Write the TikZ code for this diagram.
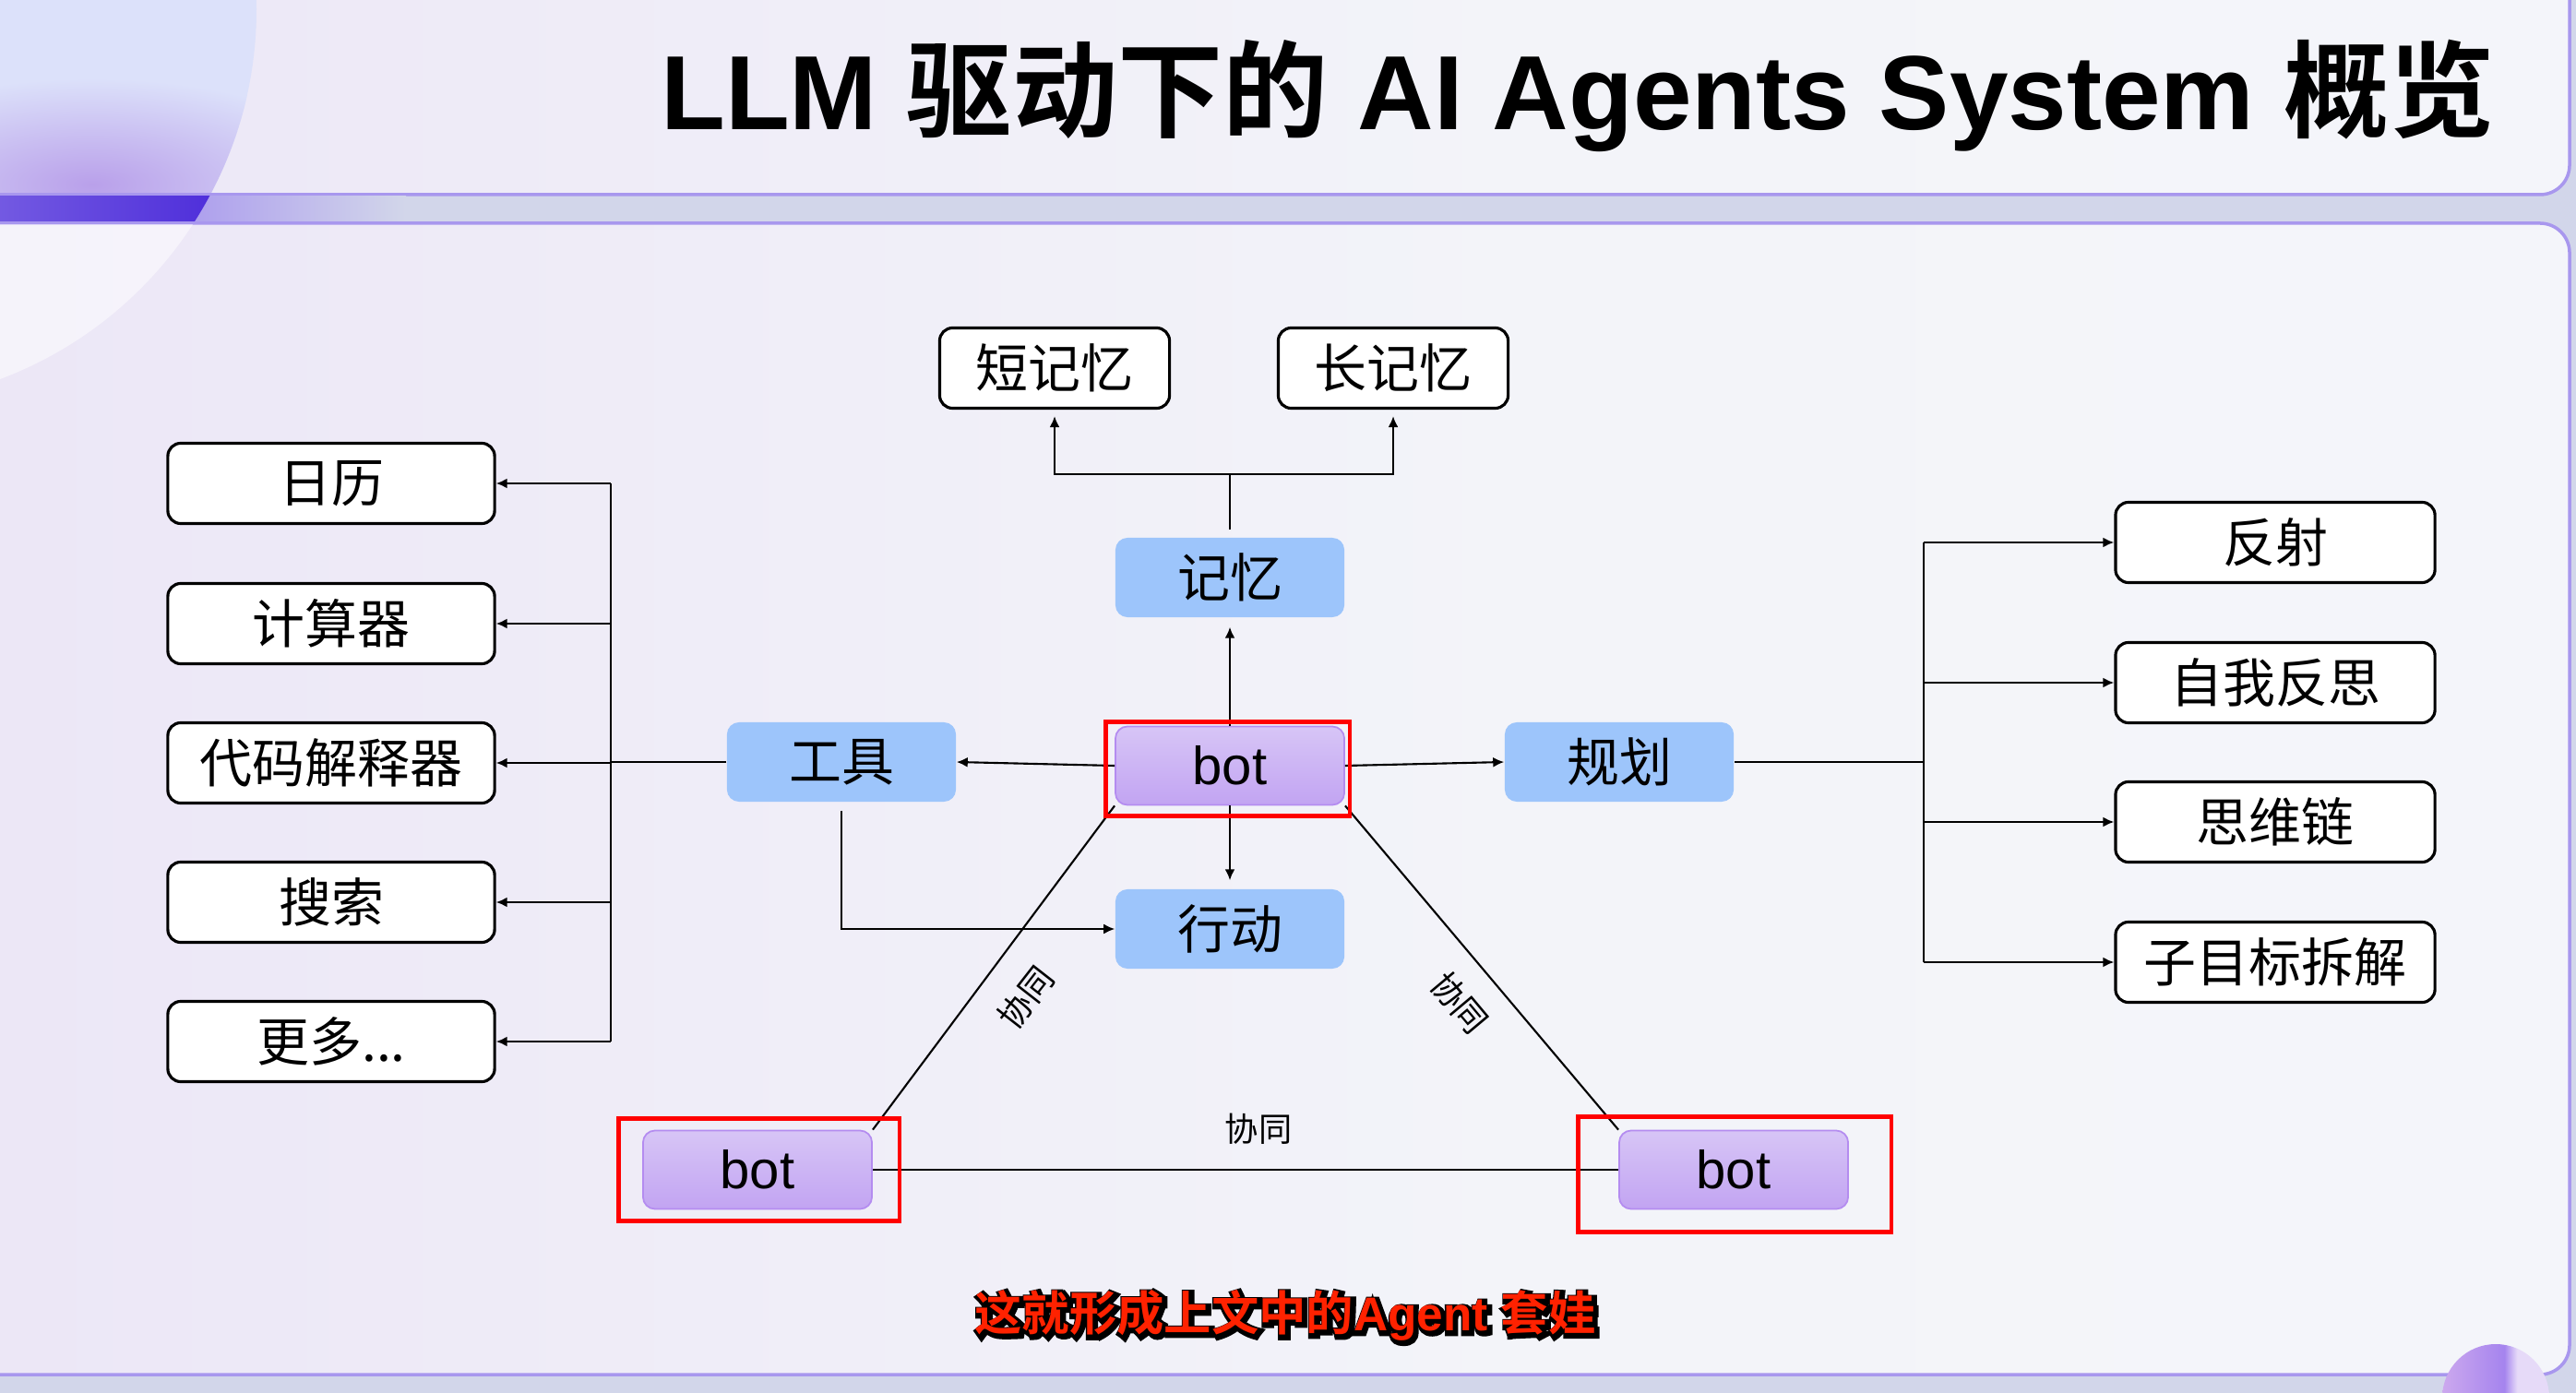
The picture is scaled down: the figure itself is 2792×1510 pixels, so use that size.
\documentclass[tikz,border=0pt]{standalone}
\usepackage{fontspec}
\setmainfont{Liberation Sans}
\newfontfamily\cjk[BoldFont={Noto Sans CJK SC Bold}]{Noto Sans CJK SC}
\newfontfamily\capcjkrim[FakeBold=14]{Noto Sans CJK SC Bold}
\newfontfamily\caplatrim[FakeBold=14]{Liberation Sans Bold}
\usetikzlibrary{arrows.meta, positioning, calc}

\definecolor{gapcol}{HTML}{D2D6EA}
\definecolor{rimcol}{HTML}{A897EE}
\definecolor{coreblue}{HTML}{9DC5FB}
\definecolor{bottop}{HTML}{D7C5F6}
\definecolor{botbot}{HTML}{C2A4F2}
\definecolor{botedge}{HTML}{B48CF0}
\definecolor{capred}{HTML}{FF2200}
\definecolor{circA}{HTML}{DCE1FA}
\definecolor{blobpurple}{HTML}{B9A0EA}
\definecolor{barblue}{HTML}{4422D8}
\definecolor{pnlA}{HTML}{F2E2F3}
\definecolor{pnlB}{HTML}{EBE5F6}
\definecolor{pnlC}{HTML}{F3F4F9}
\definecolor{pnlD}{HTML}{F6F7FB}
\definecolor{orbpink}{HTML}{EEC8EE}
\definecolor{orbmid}{HTML}{A584EE}
\definecolor{orblight}{HTML}{E6DAF8}

\pgfdeclarehorizontalshading{panelshade}{100bp}{color(0bp)=(pnlA); color(22bp)=(pnlB); color(55bp)=(pnlC); color(100bp)=(pnlD)}
\pgfdeclarehorizontalshading{orbshade}{100bp}{color(0bp)=(orbpink); color(54bp)=(orbmid); color(60bp)=(orblight); color(100bp)=(orblight)}

\begin{document}
\begin{tikzpicture}[x=0.01cm, y=-0.01cm,
    >={Latex[length=1.2mm,width=1.1mm]},
    conn/.style={line width=0.6pt, black},
    arr/.style={conn, ->},
    core/.style={rounded corners=0.13cm, fill=coreblue, minimum width=2.48cm, minimum height=0.86cm, inner sep=0pt, font=\cjk\fontsize{16.2}{18}\selectfont},
    botbox/.style={rounded corners=0.13cm, draw=botedge, line width=0.5pt, top color=bottop, bottom color=botbot, minimum width=2.48cm, minimum height=0.85cm, inner sep=0pt, font=\fontsize{16.5}{18}\selectfont},
    leaf/.style={rounded corners=0.14cm, draw=black, line width=0.9pt, fill=white, minimum height=0.87cm, inner sep=0pt, font=\cjk\fontsize{16.2}{18}\selectfont},
    hilite/.style={draw=red, line width=1.4pt},
    lbl/.style={font=\cjk\fontsize{10.3}{12}\selectfont, inner sep=0pt},
]

% Backdrop
\fill[gapcol] (0,0) rectangle (2792,1510);
\useasboundingbox (0,0) rectangle (2792,1510);

% --- Panels
\shadedraw[shading=panelshade, draw=rimcol, line width=1pt, rounded corners=0.32cm] (-60,-60) rectangle (2785,211);
\shadedraw[shading=panelshade, draw=rimcol, line width=1pt, rounded corners=0.32cm] (-60,242) rectangle (2785,1490);

% --- Corner decoration
\begin{scope}
  \clip (-60,-60) rectangle (2784,209);
  \fill[circA] (-150,10) circle (428);
  \clip (-150,10) circle (428);
  \shade[inner color=blobpurple, outer color=circA] (100,200) ellipse (300 and 115);
\end{scope}
\begin{scope}
  \clip (-60,244) rectangle (2784,1488);
  \fill[white, opacity=0.5] (-150,10) circle (428);
\end{scope}
\shade[left color=rimcol!90!gapcol, right color=gapcol] (200,213) rectangle (440,240);
\begin{scope}
  \clip (-150,10) circle (428);
  \shade[left color=barblue!75!white, right color=barblue] (0,213) rectangle (300,240);
\end{scope}
\shade[shading=orbshade] (2705,1515) circle (58);

% Title
\node[anchor=base, font=\fontsize{32.5}{36}\selectfont\bfseries] (title) at (1710,141)
  {LLM {\cjk 驱动下的} AI Agents System {\cjk 概览}};

% --- Core nodes
\node[botbox] (bot) at (1333,830) {bot};
\node[core] (mem) at (1333,626) {记忆};
\node[core] (act) at (1333,1007) {行动};
\node[core] (tool) at (912,826) {工具};
\node[core] (plan) at (1755,826) {规划};
\node[botbox] (botL) at (821,1268) {bot};
\node[botbox] (botR) at (1879,1268) {bot};

% Memory kinds
\node[leaf, minimum width=2.49cm] (short) at (1143,399) {短记忆};
\node[leaf, minimum width=2.49cm] (long) at (1510,399) {长记忆};

% Tools
\node[leaf, minimum width=3.54cm] (t1) at (359,524) {日历};
\node[leaf, minimum width=3.54cm] (t2) at (359,676) {计算器};
\node[leaf, minimum width=3.54cm] (t3) at (359,827) {代码解释器};
\node[leaf, minimum width=3.54cm] (t4) at (359,978) {搜索};
\node[leaf, minimum width=3.54cm] (t5) at (359,1129) {更多...};

% Planning
\node[leaf, minimum width=3.46cm] (p1) at (2466,588) {反射};
\node[leaf, minimum width=3.46cm] (p2) at (2466,740) {自我反思};
\node[leaf, minimum width=3.46cm] (p3) at (2466,891) {思维链};
\node[leaf, minimum width=3.46cm] (p4) at (2466,1043) {子目标拆解};

% --- Connectors
\coordinate (mfork) at (1333,514);
\draw[conn, shorten <=0.08cm] (mem.north) -- (mfork);
\draw[arr, shorten >=0.07cm] (mfork) -| (short.south);
\draw[arr, shorten >=0.07cm] (mfork) -| (long.south);

\draw[arr, shorten >=0.1cm] (bot.north) -- (mem.south);
\draw[arr, shorten >=0.09cm] (bot.south) -- (act.north);
\draw[arr] (bot.west) -- (tool.east);
\draw[arr] (bot.east) -- (plan.west);
\draw[arr, shorten <=0.09cm] (tool.south) |- (act.west);

\coordinate (ltrunk) at (662,826);
\draw[conn] (tool.west) -- (ltrunk);
\draw[conn] (ltrunk |- t1.east) -- (ltrunk |- t5.east);
\foreach \i in {1,...,5}
  \draw[arr] (ltrunk |- t\i.east) -- (t\i.east);

\coordinate (rtrunk) at (2085,826);
\draw[conn] (plan.east) -- (rtrunk);
\draw[conn] (rtrunk |- p1.west) -- (rtrunk |- p4.west);
\foreach \i in {1,...,4}
  \draw[arr] (rtrunk |- p\i.west) -- (p\i.west);

% Collaboration triangle
\draw[conn] (bot.south west) -- (botL.north east);
\draw[conn] (bot.south east) -- (botR.north west);
\draw[conn] (botL.east) -- (botR.west);
\node[lbl, rotate=52] (co1) at (1112,1081) {协同};
\node[lbl, rotate=-50] (co2) at (1582,1087) {协同};
\node[lbl] (co3) at (1364,1224) {协同};

% Highlights
\draw[hilite] ([shift={(-10,-4)}]bot.north west) rectangle ([shift={(5,11)}]bot.south east);
\draw[hilite] ([shift={(-26,-12)}]botL.north west) rectangle ([shift={(29,12)}]botL.south east);
\draw[hilite] ([shift={(-44,-14)}]botR.north west) rectangle ([shift={(46,24)}]botR.south east);

% Caption (black rim under red text)
\node[font=\fontsize{14.6}{17}\selectfont] (caprim) at (1395,1428)
  {{\capcjkrim 这就形成上文中的}{\caplatrim Agent} {\capcjkrim 套娃}};
\node[font=\fontsize{14.6}{17}\selectfont\bfseries, text=capred] (caption) at (1393,1426)
  {{\cjk 这就形成上文中的}Agent {\cjk 套娃}};

\end{tikzpicture}
\end{document}
